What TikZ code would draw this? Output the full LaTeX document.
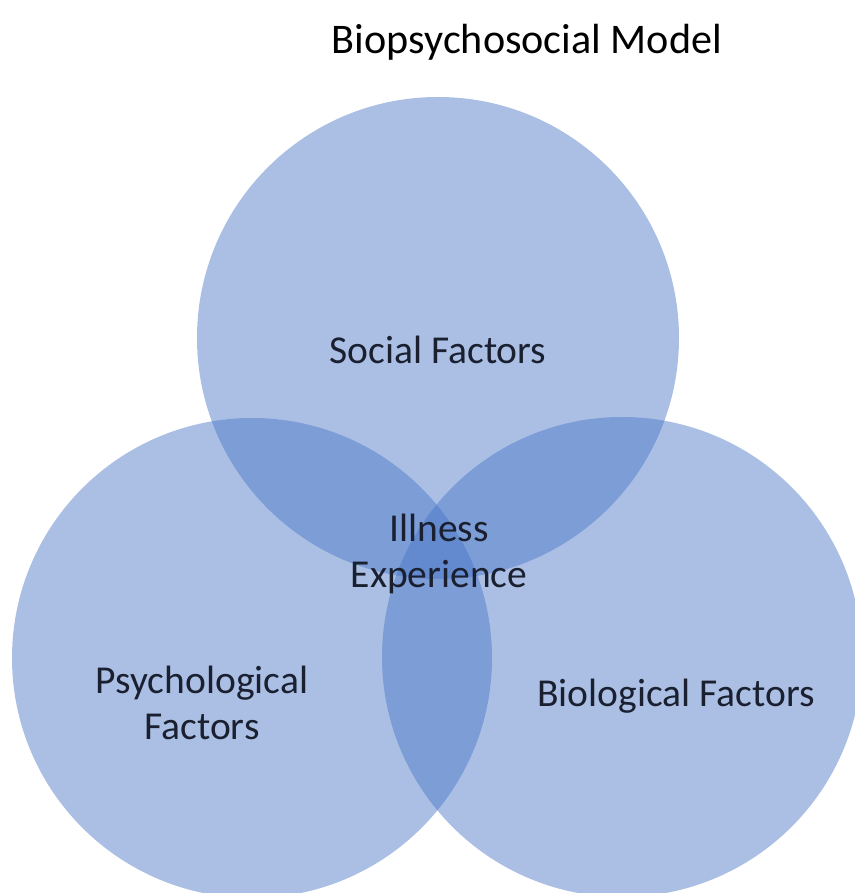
\documentclass[tikz,border=0pt]{standalone}
\usepackage{fontspec}
\setmainfont{Carlito}
\usepackage{xcolor}
\usepackage{tikz}
\definecolor{bg}{HTML}{FFFFFF}
\definecolor{disc}{HTML}{4472C4}
\definecolor{text}{HTML}{1A2030}
\tikzset{
  setdisc/.style={fill=disc, fill opacity=0.45, draw=none},
  lab/.style={text=text, font=\fontsize{22.5}{26.5}\selectfont, align=center, inner sep=0pt},
  headline/.style={text=black, font=\fontsize{24}{28}\selectfont, inner sep=0pt}
}
\begin{document}
\begin{tikzpicture}
  \useasboundingbox (0,0) rectangle (17.08,17.86);
  \coordinate (Soc) at (8.76,11.10);
  \coordinate (Psy) at (5.04,4.70);
  \coordinate (Bio) at (12.44,4.72);

  \fill[setdisc] (Soc) circle (4.82);
  \fill[setdisc] (Psy) circle (4.80);
  \fill[setdisc] (Bio) circle (4.80);

  \node[headline] (title) at (10.54,17.02) {Biopsychosocial Model};
  \node[lab] (soclab) at (8.76,10.86) {Social Factors};
  \node[lab] (core) at (8.78,6.78) {Illness\\Experience};
  \node[lab] (psylab) at (4.04,3.80) {Psychological\\Factors};
  \node[lab] (biolab) at (13.52,3.94) {Biological Factors};
\end{tikzpicture}
\end{document}
